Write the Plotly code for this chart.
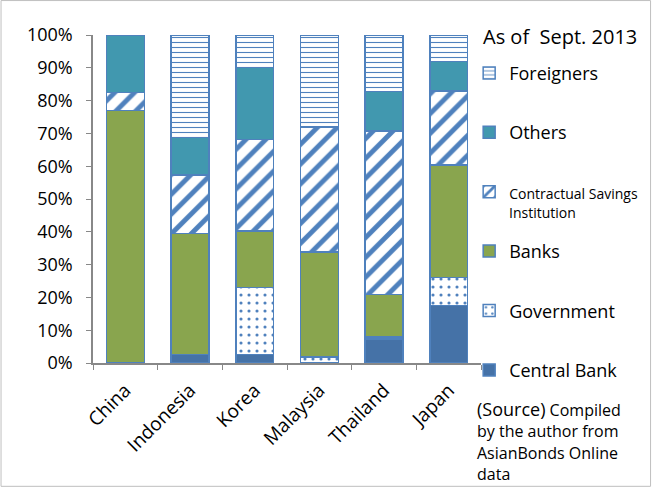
import plotly.graph_objects as go

countries = ["China", "Indonesia", "Korea", "Malaysia", "Thailand", "Japan"]
central_bank = [0.0, 2.6, 2.6, 0.0, 7.3, 17.5]
government = [0.0, 0.0, 20.4, 1.9, 0.7, 8.5]
banks = [77.0, 36.9, 17.3, 31.9, 12.9, 34.4]
contractual = [5.5, 17.8, 27.9, 38.1, 49.8, 22.6]
others = [17.5, 11.5, 21.9, 0.0, 12.0, 8.9]
foreigners = [0.0, 31.2, 9.9, 28.1, 17.3, 8.1]

y_ticks = list(range(0, 101, 10))

BLUE = "#4F81BD"
FONT = "Open Sans"

fig = go.Figure()

series = [
    ("Central Bank", central_bank, dict(color="#4572A7")),
    ("Government", government, dict(color="white", pattern=dict(shape=".", fgcolor=BLUE, bgcolor="white", fgopacity=1, size=8, solidity=0.12, fillmode="overlay"))),
    ("Banks", banks, dict(color="#89A54E")),
    ("<span style='font-size:14px'>Contractual Savings</span>", contractual,
     dict(color="white", pattern=dict(shape="/", fgcolor=BLUE, bgcolor="white", fgopacity=1, size=14, solidity=0.35, fillmode="overlay"))),
    ("Others", others, dict(color="#4198AF")),
    ("Foreigners", foreigners, dict(color="white", pattern=dict(shape="-", fgcolor=BLUE, bgcolor="white", fgopacity=1, size=5, solidity=0.22, fillmode="overlay"))),
]

n = len(series)
for i, (name, vals, mk) in enumerate(series):
    mk = dict(mk)
    mk["line"] = dict(color=BLUE, width=1.5)
    fig.add_trace(go.Bar(x=countries, y=vals, name=name, marker=mk, legendgroup=f"g{i}",
                         legendrank=n - i))

fig.update_layout(
    width=654, height=488,
    barmode="stack", bargap=0.415,
    paper_bgcolor="white", plot_bgcolor="white",
    margin=dict(l=93, r=172, t=35, b=125),
    font=dict(family=FONT, size=16, color="black"),
    showlegend=True,
    legend=dict(x=0.967, y=0.94, xanchor="left", yanchor="top", traceorder="grouped",
                tracegroupgap=33, valign="top", font=dict(size=18), bgcolor="rgba(0,0,0,0)",
                maxheight=480),
    xaxis=dict(showline=True, linecolor="#888888", linewidth=1.5, ticks="outside", tickson="boundaries",
               ticklen=5, tickcolor="#888888", tickangle=-45, tickfont=dict(size=19), automargin=False,
               ticklabelstandoff=7),
    yaxis=dict(range=[0, 100], tickvals=y_ticks, ticktext=[f"{v}%" for v in y_ticks],
               showline=True, linecolor="#888888", linewidth=1.5, ticks="outside", ticklen=5,
               tickcolor="#888888", showgrid=False, zeroline=False, tickfont=dict(size=18),
               ticklabelstandoff=10, automargin=False),
    annotations=[
        dict(text="As of  Sept. 2013", x=1.0, xref="paper", y=0.994, yref="paper", xanchor="left",
             yanchor="middle", showarrow=False, font=dict(size=20)),
        dict(text="Institution", x=1.066, xref="paper", y=0.46, yref="paper", xanchor="left",
             yanchor="middle", showarrow=False, font=dict(size=14)),
        dict(text="<span style='font-size:18px'>(Source)</span><span style='font-size:16px'> Compiled</span><br>"
                  "<span style='font-size:16px'>by the author from</span><br>"
                  "<span style='font-size:16px'>AsianBonds Online</span><br>"
                  "<span style='font-size:16px'>data</span>",
             x=0.985, xref="paper", y=-0.098, yref="paper", xanchor="left", yanchor="top", align="left",
             showarrow=False, font=dict(size=16.5)),
    ],
    shapes=[dict(type="rect", xref="paper", yref="paper", x0=-0.237, x1=1.437, y0=-0.376, y1=1.105,
                 line=dict(color="#BFBFBF", width=1))],
)

fig.write_html("out.html", config={"displayModeBar": False},
               post_script="document.body.style.margin='0px';")
